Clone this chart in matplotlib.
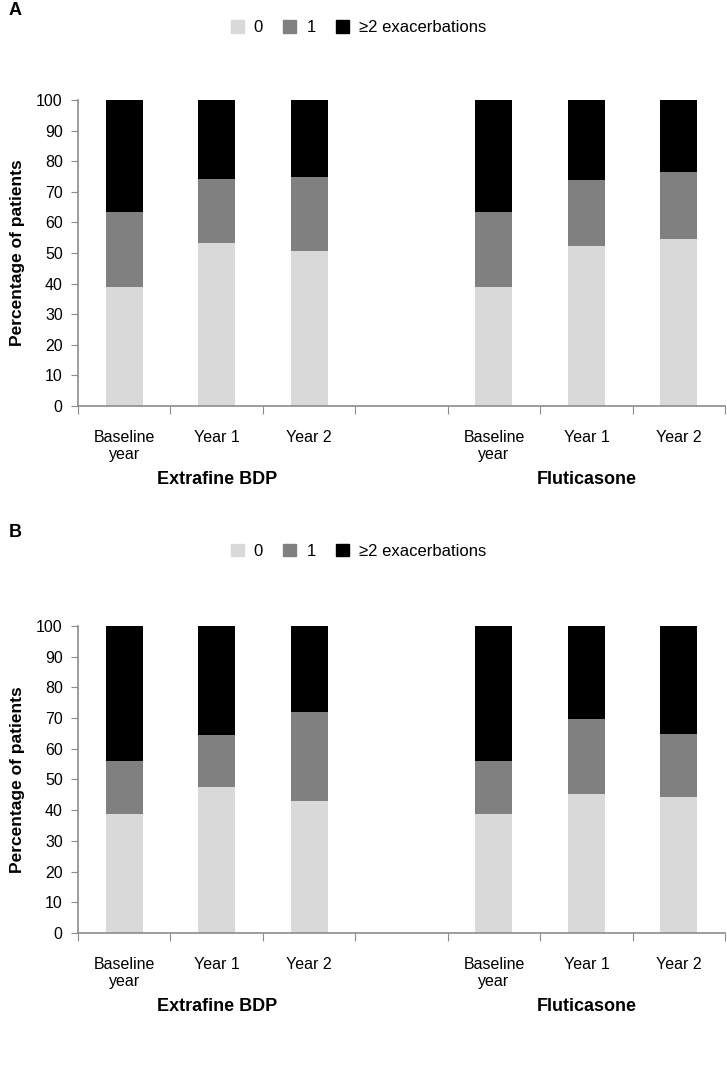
import matplotlib.pyplot as plt
from matplotlib.patches import Patch

plt.rcParams['font.family'] = ['Liberation Sans Narrow', 'Liberation Sans', 'DejaVu Sans']

# categories (index 3 is the empty gap between groups)
slots = ['Baseline\nyear', 'Year 1', 'Year 2', '', 'Baseline\nyear', 'Year 1', 'Year 2']
bar_pos = [0, 1, 2, 4, 5, 6]
groups = ['Extrafine BDP', 'Fluticasone']
group_pos = [1, 5]
series_names = ['0', '1', '\u22652 exacerbations']
colors = ['#d9d9d9', '#808080', '#000000']

# panel A: percentages of patients with 0 / 1 / >=2 exacerbations
a_zero = [39.0, 53.2, 50.5, 39.0, 52.3, 54.7]
a_one = [24.4, 21.0, 24.4, 24.4, 21.6, 21.6]
a_two = [36.6, 25.8, 25.1, 36.6, 26.1, 23.7]

# panel B
b_zero = [38.6, 47.6, 42.9, 38.6, 45.4, 44.4]
b_one = [17.5, 16.9, 29.2, 17.5, 24.4, 20.5]
b_two = [43.9, 35.5, 27.9, 43.9, 30.2, 35.1]

fig = plt.figure(figsize=(7.27, 10.68), dpi=100)
axis_gray = '#8c8c8c'


def draw_panel(rect, zero, one, two, letter, letter_y, legend_y):
    ax = fig.add_axes(rect)
    bottom = [0] * len(zero)
    for vals, c in zip([zero, one, two], colors):
        ax.bar(bar_pos, vals, width=0.4, bottom=bottom, color=c, linewidth=0)
        bottom = [b + v for b, v in zip(bottom, vals)]

    ax.set_xlim(-0.5, 6.5)
    ax.set_ylim(0, 100)
    ax.set_yticks(range(0, 101, 10))
    ax.set_xticks([i - 0.5 for i in range(8)])
    ax.set_xticklabels([])
    ax.set_xticks(range(7), slots, minor=True)
    ax.tick_params(axis='x', which='major', length=6, color=axis_gray, direction='out')
    ax.tick_params(axis='x', which='minor', length=0, pad=17, labelsize=11.5)
    ax.tick_params(axis='y', length=5, color=axis_gray, labelsize=11.5, pad=6)
    for s in ['top', 'right']:
        ax.spines[s].set_visible(False)
    for s in ['left', 'bottom']:
        ax.spines[s].set_color(axis_gray)
        ax.spines[s].set_linewidth(1.2)
    ax.set_ylabel('Percentage of patients', fontsize=12.5, fontweight='bold', labelpad=8)

    for g, p in zip(groups, group_pos):
        ax.annotate(g, xy=(p, 0), xycoords=('data', 'axes fraction'),
                    xytext=(0, -47), textcoords='offset points',
                    ha='center', va='top', fontsize=13, fontweight='bold')

    fig.text(0.012, letter_y, letter, fontsize=13, fontweight='bold', va='center')
    handles = [Patch(color=c, label=n) for c, n in zip(colors, series_names)]
    fig.legend(handles=handles, loc='center', bbox_to_anchor=(0.493, legend_y),
               ncol=3, frameon=False, fontsize=12, handlelength=0.8, handleheight=0.8,
               columnspacing=1.2, handletextpad=0.6)
    return ax


draw_panel([0.1073, 0.6199, 0.890, 0.2865], a_zero, a_one, a_two, 'A', 0.990, 0.974)
draw_panel([0.1073, 0.1264, 0.890, 0.2875], b_zero, b_one, b_two, 'B', 0.501, 0.484)

fig.savefig('out.png', dpi=100)
